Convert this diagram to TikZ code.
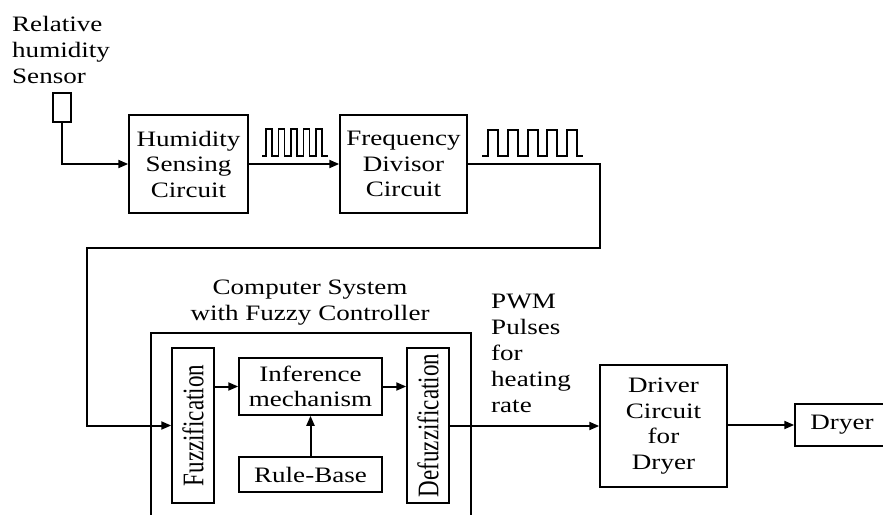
\documentclass[tikz,border=0pt]{standalone}
\usepackage{fontspec}
\setmainfont[FakeStretch=1.23]{Liberation Serif}
\newfontfamily\rotfont{Liberation Serif}
\usetikzlibrary{arrows.meta}
\tikzset{
  box/.style={draw, line width=1.5pt, inner sep=0pt, align=center, font=\fontsize{22}{25.5}\selectfont},
  lbl/.style={inner sep=0pt, align=left, font=\fontsize{22}{26}\selectfont},
  conn/.style={line width=2pt},
  arr/.style={line width=2pt, -{Triangle[length=10pt,width=8pt]}},
  pulse/.style={line width=1.3pt, line join=miter}
}
\newcommand{\rottext}[1]{\rotatebox{90}{\rotfont\fontsize{23}{23}\selectfont\scalebox{1}[1.3]{#1}}}
\begin{document}
\begin{tikzpicture}[x=1pt,y=-1pt]
\useasboundingbox (0,0) rectangle (883,514);
% sensor
\node[lbl, anchor=north west] (senslbl) at (12,16) {Relative\\humidity\\Sensor};
\node[draw, line width=1.5pt, minimum width=18, minimum height=29, inner sep=0pt] (sensor) at (62,107.5) {};
% top row
\node[box, minimum width=119, minimum height=98] (hum) at (188.5,164) {Humidity\\Sensing\\Circuit};
\node[box, minimum width=127, minimum height=98] (freq) at (403.5,164) {Frequency\\Divisor\\Circuit};
% pulses
\draw[pulse] (262,156) -- (266,156)
  -- (266,129) -- (272,129) -- (272,156) -- (278.5,156)
  -- (278.5,129) -- (284.5,129) -- (284.5,156) -- (291,156)
  -- (291,129) -- (297,129) -- (297,156) -- (303.5,156)
  -- (303.5,129) -- (309.5,129) -- (309.5,156) -- (316,156)
  -- (316,129) -- (322,129) -- (322,156) -- (328,156);
\draw[pulse] (482,156) -- (488,156)
  -- (488,130) -- (498,130) -- (498,156) -- (508,156)
  -- (508,130) -- (518,130) -- (518,156) -- (528,156)
  -- (528,130) -- (538,130) -- (538,156) -- (547,156)
  -- (547,130) -- (557,130) -- (557,156) -- (567,156)
  -- (567,130) -- (577,130) -- (577,156) -- (583,156);
% computer system
\node[draw, line width=1.5pt, minimum width=320, minimum height=197, inner sep=0pt] (cs) at (311,431.5) {};
\node[lbl, align=center] (cslbl) at (310,303) {Computer System\\with Fuzzy Controller};
\node[box, minimum width=42, minimum height=155] (fuzz) at (193,425.5) {\rottext{Fuzzification}};
\node[box, minimum width=143, minimum height=57] (inf) at (310.5,386.5) {Inference\\mechanism};
\node[box, minimum width=143, minimum height=35] (rule) at (310.5,474.5) {Rule-Base};
\node[box, minimum width=42, minimum height=155] (defuzz) at (428,425.5) {\rottext{Defuzzification}};
% output
\node[lbl, anchor=north west] (pwm) at (491,294) {PWM\\Pulses\\for\\heating\\rate};
\node[box, minimum width=127, minimum height=122] (drv) at (663.5,426) {Driver\\Circuit\\for\\Dryer};
\node[box, minimum width=94, minimum height=42] (dryer) at (842,425) {Dryer};
% connectors
\coordinate (c1) at (600,248);
\coordinate (c2) at (87,248);
\draw[arr] (sensor.south) |- (hum.west);
\draw[arr] (hum.east) -- (freq.west);
\draw[arr] (freq.east) -| (c1) -- (c2) |- (fuzz.west);
\draw[arr] (fuzz.east |- inf.west) -- (inf.west);
\draw[arr] (rule.north) -- (inf.south);
\draw[arr] (inf.east) -- (defuzz.west |- inf.east);
\draw[arr] (defuzz.east |- drv.west) -- (drv.west);
\draw[arr] (drv.east |- dryer.west) -- (dryer.west);
\end{tikzpicture}
\end{document}
